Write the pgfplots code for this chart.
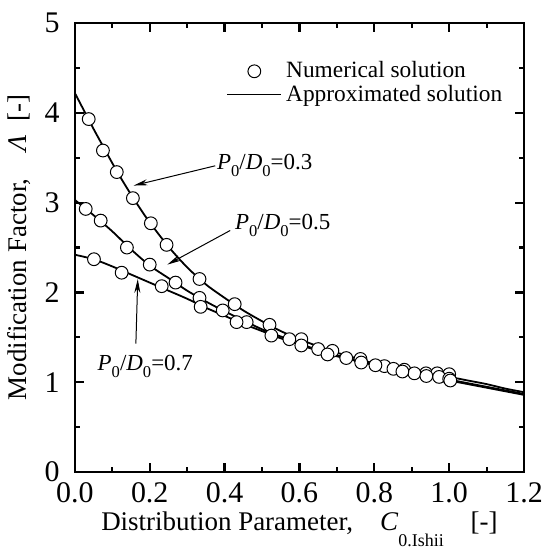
\documentclass[border=0pt]{standalone}
\usepackage{fontspec}
\setmainfont{Liberation Serif}
\usepackage{pgfplots}
\pgfplotsset{compat=1.18}
\usetikzlibrary{arrows.meta}

\newcommand\sub[1]{\raisebox{-0.3em}{\fontsize{8.3}{9}\selectfont #1}}
\newcommand\PD[1]{\textit{P}\sub{0}/\textit{D}\sub{0}=#1}

\begin{document}
\begin{tikzpicture}
\begin{axis}[
  name=ax,
  scale only axis, width=225pt, height=225pt,
  xmin=0, xmax=1.2, ymin=0, ymax=5,
  xtick={0,0.2,0.4,0.6,0.8,1.0,1.2}, ytick={0,1,2,3,4,5},
  minor x tick num=1, minor y tick num=1,
  tick align=inside,
  major tick length=4.5pt, minor tick length=2.5pt,
  every tick/.style={black, line width=1.1pt},
  axis line style={line width=1.3pt},
  /pgf/number format/assume math mode=true,
  tick label style={font=\fontsize{15}{17}\selectfont, inner sep=0pt},
  xticklabel style={yshift=-5pt, /pgf/number format/.cd, fixed, fixed zerofill, precision=1},
  yticklabel style={xshift=-7.5pt},
  xlabel={Distribution Parameter,\quad\textit{C}\raisebox{-8pt}{\fontsize{9}{10}\selectfont 0.Ishii}\quad[-]},
  xlabel style={at={(axis description cs:0.5,-0.129)}, anchor=base, font=\fontsize{13.5}{16}\selectfont},
  ylabel={Modification Factor,\quad\textit{Λ}\enspace[-]},
  ylabel style={at={(axis description cs:-0.107,0.5)}, anchor=base, font=\fontsize{13.5}{16}\selectfont},
  legend style={at={(axis cs:0.388,4.64)}, anchor=north west, draw=none, fill=none,
    font=\fontsize{11.7}{13}\selectfont, row sep=0pt,
    nodes={inner xsep=2pt, inner ysep=1pt}},
  legend cell align=left,
]
% legend
\addlegendimage{legend image code/.code={\draw[mark=*, mark size=3.2pt, mark options={fill=white, draw=black, line width=0.5pt}] plot coordinates {(13.5pt,0pt)};}}
\addlegendentry{Numerical solution}
\addlegendimage{legend image code/.code={\draw[black, line width=0.9pt] (0pt,0pt) -- (27pt,0pt);}}
\addlegendentry{Approximated solution}

% approximated solutions (lines)
\addplot[black, line width=0.9pt, smooth, forget plot] coordinates {
(0,4.22)(0.025,4.02)(0.05,3.82)(0.075,3.63)(0.1,3.44)(0.125,3.26)(0.15,3.09)(0.175,2.93)
(0.2,2.78)(0.25,2.51)(0.3,2.28)(0.35,2.09)(0.4,1.94)(0.45,1.80)(0.5,1.68)(0.55,1.57)
(0.6,1.48)(0.65,1.40)(0.7,1.33)(0.75,1.27)(0.8,1.21)(0.85,1.17)(0.9,1.12)(0.95,1.09)
(1.0,1.06)(1.05,1.02)(1.1,0.98)(1.15,0.93)(1.2,0.89)};
\addplot[black, line width=0.9pt, smooth, forget plot] coordinates {
(0,3.03)(0.05,2.86)(0.1,2.68)(0.15,2.48)(0.2,2.30)(0.25,2.16)(0.3,2.02)(0.35,1.90)
(0.4,1.79)(0.45,1.69)(0.5,1.59)(0.55,1.51)(0.6,1.43)(0.65,1.36)(0.7,1.30)(0.75,1.25)
(0.8,1.20)(0.85,1.15)(0.9,1.11)(0.95,1.07)(1.0,1.03)(1.05,0.99)(1.1,0.95)(1.15,0.91)(1.2,0.87)};
\addplot[black, line width=0.9pt, smooth, forget plot] coordinates {
(0,2.42)(0.05,2.37)(0.1,2.29)(0.15,2.20)(0.2,2.11)(0.25,2.02)(0.3,1.93)(0.35,1.83)
(0.4,1.74)(0.45,1.65)(0.5,1.57)(0.55,1.49)(0.6,1.42)(0.65,1.35)(0.7,1.29)(0.75,1.24)
(0.8,1.19)(0.85,1.14)(0.9,1.10)(0.95,1.06)(1.0,1.02)(1.05,0.98)(1.1,0.94)(1.15,0.90)(1.2,0.86)};

% numerical solutions (circles)
\pgfplotsset{numstyle/.style={only marks, mark=*, mark size=3.2pt,
  mark options={fill=white, draw=black, line width=0.5pt}, forget plot}}
\addplot[numstyle] coordinates {
(0.037,3.93)(0.075,3.58)(0.112,3.34)(0.155,3.05)(0.203,2.77)(0.245,2.53)(0.333,2.15)
(0.427,1.87)(0.520,1.64)(0.605,1.48)(0.688,1.35)(0.763,1.26)(0.827,1.18)(0.880,1.14)
(0.938,1.10)(0.968,1.10)(1.000,1.09)};
\addplot[numstyle] coordinates {
(0.029,2.93)(0.069,2.80)(0.139,2.50)(0.200,2.31)(0.269,2.11)(0.333,1.94)(0.395,1.80)
(0.459,1.67)(0.573,1.48)(0.650,1.37)(0.725,1.27)(0.803,1.19)(0.851,1.15)(0.907,1.10)
(0.973,1.06)(1.000,1.04)};
\addplot[numstyle] coordinates {
(0.051,2.37)(0.125,2.22)(0.232,2.07)(0.336,1.84)(0.432,1.67)(0.525,1.52)(0.605,1.41)
(0.675,1.31)(0.765,1.22)(0.875,1.12)(0.939,1.07)(1.003,1.02)};

% annotations
\draw[line width=0.5pt, -{Stealth[length=7pt,width=3pt]}] (axis cs:0.375,3.41) -- (axis cs:0.157,3.19);
\node[anchor=base west, inner sep=0pt, font=\fontsize{11.5}{13}\selectfont] at (axis cs:0.379,3.37) {\PD{0.3}};
\draw[line width=0.5pt, -{Stealth[length=7pt,width=3pt]}] (axis cs:0.415,2.69) -- (axis cs:0.247,2.31);
\node[anchor=base west, inner sep=0pt, font=\fontsize{11.5}{13}\selectfont] at (axis cs:0.427,2.70) {\PD{0.5}};
\draw[line width=0.5pt, -{Stealth[length=7pt,width=3pt]}] (axis cs:0.163,1.43) -- (axis cs:0.168,2.15);
\node[anchor=base west, inner sep=0pt, font=\fontsize{11.5}{13}\selectfont] at (axis cs:0.060,1.13) {\PD{0.7}};
\end{axis}
\pgfresetboundingbox
\path[use as bounding box] ([shift={(-37.5pt,-39.5pt)}]ax.south west) rectangle ([shift={(12pt,11.5pt)}]ax.north east);
\end{tikzpicture}
\end{document}
